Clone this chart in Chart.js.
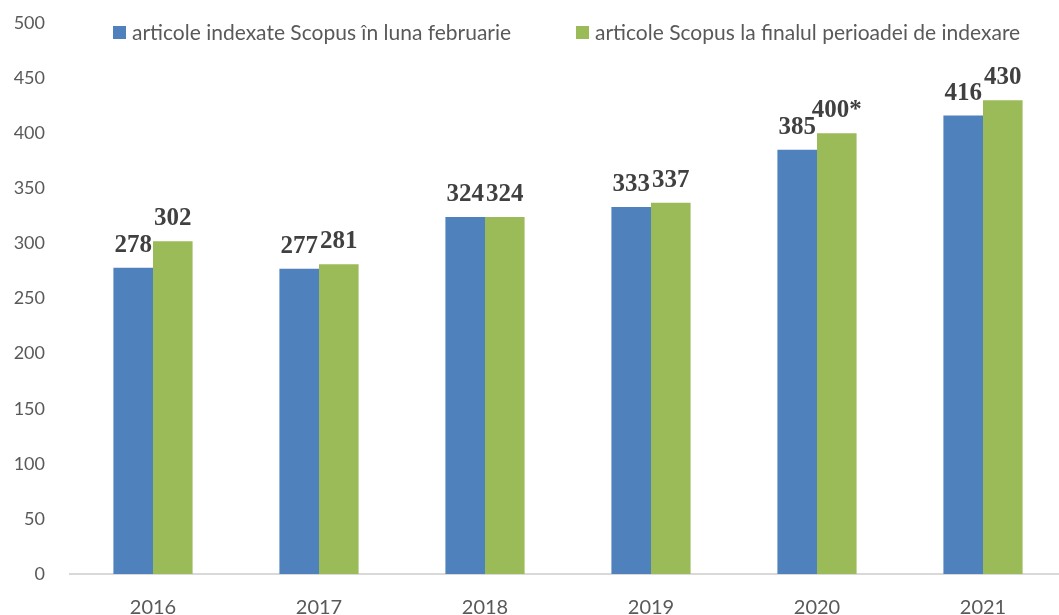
<!DOCTYPE html>
<html>
<head>
<meta charset="utf-8">
<script src="https://cdn.jsdelivr.net/npm/chart.js@4.4.1/dist/chart.umd.min.js"></script>
<style>
html,body{margin:0;padding:0;background:#fff;overflow:hidden;}
#wrap{width:1066px;height:615px;position:relative;}
</style>
</head>
<body>
<div id="wrap"><canvas id="c"></canvas></div>
<script>
const categories = ['2016','2017','2018','2019','2020','2021'];
const seriesNames = ['articole indexate Scopus în luna februarie','articole Scopus la finalul perioadei de indexare'];
const februaryValues = [278,277,324,333,385,416];
const finalValues = [302,281,324,337,400,430];
const finalLabelSuffix = ['','','','','*',''];
const yTicks = [0,50,100,150,200,250,300,350,400,450,500];

const TEXT = '#595959';
const UI_FONT = 'Lato, "Open Sans", sans-serif';

const valueLabels = {
  id: 'valueLabels',
  afterDatasetsDraw(chart) {
    const ctx = chart.ctx;
    ctx.save();
    ctx.font = 'bold 25px "Liberation Serif", "Times New Roman", serif';
    ctx.fillStyle = '#404040';
    ctx.textAlign = 'center';
    ctx.textBaseline = 'alphabetic';
    chart.data.datasets.forEach((ds, di) => {
      const meta = chart.getDatasetMeta(di);
      meta.data.forEach((bar, i) => {
        const txt = String(ds.data[i]) + (ds.suffix ? ds.suffix[i] : '');
        ctx.fillText(txt, bar.x, bar.y - 16);
      });
    });
    ctx.restore();
  }
};

const customLegend = {
  id: 'customLegend',
  afterDraw(chart) {
    const ctx = chart.ctx;
    ctx.save();
    ctx.font = '21px ' + UI_FONT;
    ctx.textBaseline = 'middle';
    ctx.textAlign = 'left';
    const starts = [113, 576];
    chart.data.datasets.forEach((ds, di) => {
      const x = starts[di];
      ctx.fillStyle = ds.backgroundColor;
      ctx.fillRect(x, 26, 13, 13);
      ctx.fillStyle = TEXT;
      ctx.fillText(ds.label, x + 19, 33);
    });
    ctx.restore();
  }
};

new Chart(document.getElementById('c'), {
  type: 'bar',
  data: {
    labels: categories,
    datasets: [
      { label: seriesNames[0], data: februaryValues, backgroundColor: '#4F81BD' },
      { label: seriesNames[1], data: finalValues, backgroundColor: '#9BBB59', suffix: finalLabelSuffix }
    ]
  },
  options: {
    responsive: true,
    maintainAspectRatio: false,
    animation: false,
    layout: { padding: { top: 23, right: 0, left: 0, bottom: 0 } },
    datasets: { bar: { barPercentage: 1, categoryPercentage: 0.477 } },
    plugins: { legend: { display: false }, tooltip: { enabled: false } },
    scales: {
      x: {
        grid: { display: false, drawTicks: false },
        border: { display: true, color: '#d9d9d9', width: 2 },
        ticks: { color: TEXT, font: { family: UI_FONT, size: 20 }, padding: 22 },
        afterFit(scale) { scale.height = 41; scale.paddingLeft = 0; scale.paddingRight = 0; }
      },
      y: {
        min: 0, max: 500,
        afterBuildTicks(scale) { scale.ticks = yTicks.map(v => ({ value: v })); },
        grid: { display: false, drawTicks: false },
        border: { display: false },
        ticks: { color: TEXT, font: { family: UI_FONT, size: 18 }, padding: 25 },
        afterFit(scale) { scale.width = 70; scale.paddingTop = 0; scale.paddingBottom = 0; }
      }
    }
  },
  plugins: [valueLabels, customLegend]
});
</script>
</body>
</html>
